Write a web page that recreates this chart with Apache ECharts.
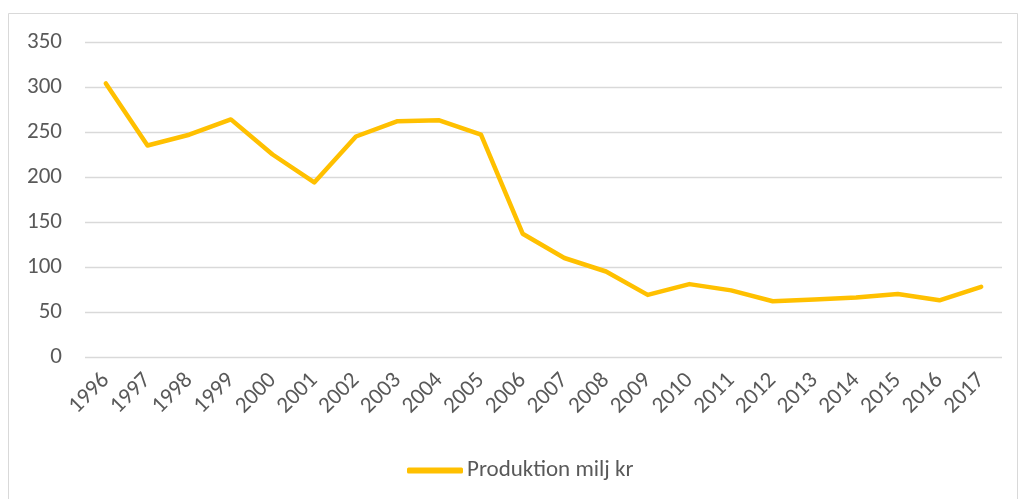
<!DOCTYPE html>
<html>
<head>
<meta charset="utf-8">
<script src="https://cdn.jsdelivr.net/npm/echarts@6/dist/echarts.min.js"></script>
<style>
  html, body { margin: 0; padding: 0; background: #fff; }
  #chart { width: 1018px; height: 499px; }
</style>
</head>
<body>
<div id="chart"></div>
<script>
// years on the x axis
const years = ['1996', '1997', '1998', '1999', '2000', '2001', '2002', '2003', '2004', '2005', '2006',
  '2007', '2008', '2009', '2010', '2011', '2012', '2013', '2014', '2015', '2016', '2017'];

// Produktion milj kr
const produktion = [304, 235, 247, 264, 225, 194, 245, 262, 263, 247, 137,
  110, 95, 69, 81, 74, 62, 64, 66, 70, 63, 78];

const yTicks = [0, 50, 100, 150, 200, 250, 300, 350];

const textColor = '#595959';
const fontFamily = 'Calibri, Carlito, "Open Sans", "Noto Sans", sans-serif';

const chart = echarts.init(document.getElementById('chart'), null, { renderer: 'canvas' });

chart.setOption({
  animation: false,
  backgroundColor: '#fff',
  textStyle: { fontFamily: fontFamily },
  graphic: [
    {
      // outer chart frame (top, left, right edges)
      type: 'polyline',
      shape: { points: [[8.5, 499], [8.5, 13.5], [1017.5, 13.5], [1017.5, 499]] },
      style: { stroke: '#d9d9d9', lineWidth: 1, fill: null },
      silent: true
    }
  ],
  grid: {
    left: 85,
    right: 16,
    top: 42,
    bottom: 142,
    containLabel: false
  },
  legend: {
    top: 454,
    left: 402,
    itemWidth: 56,
    itemHeight: 6,
    itemGap: 10,
    icon: 'roundRect',
    textStyle: { color: textColor, fontSize: 23, fontFamily: fontFamily, padding: [0, 0, 0, -1] },
    data: ['Produktion milj kr']
  },
  xAxis: {
    type: 'category',
    data: years,
    boundaryGap: true,
    axisLine: { show: false },
    axisTick: { show: false },
    axisLabel: {
      color: textColor,
      fontSize: 23,
      rotate: 45,
      margin: 20,
      interval: 0
    }
  },
  yAxis: {
    type: 'value',
    min: yTicks[0],
    max: yTicks[yTicks.length - 1],
    interval: 50,
    axisLine: { show: false },
    axisTick: { show: false },
    axisLabel: { color: textColor, fontSize: 23, margin: 23 },
    splitLine: { lineStyle: { color: '#d9d9d9', width: 1.3 } }
  },
  series: [
    {
      name: 'Produktion milj kr',
      type: 'line',
      data: produktion,
      symbol: 'none',
      lineStyle: { color: '#ffc000', width: 4.5, cap: 'round', join: 'round' },
      itemStyle: { color: '#ffc000' }
    }
  ]
});
</script>
</body>
</html>
